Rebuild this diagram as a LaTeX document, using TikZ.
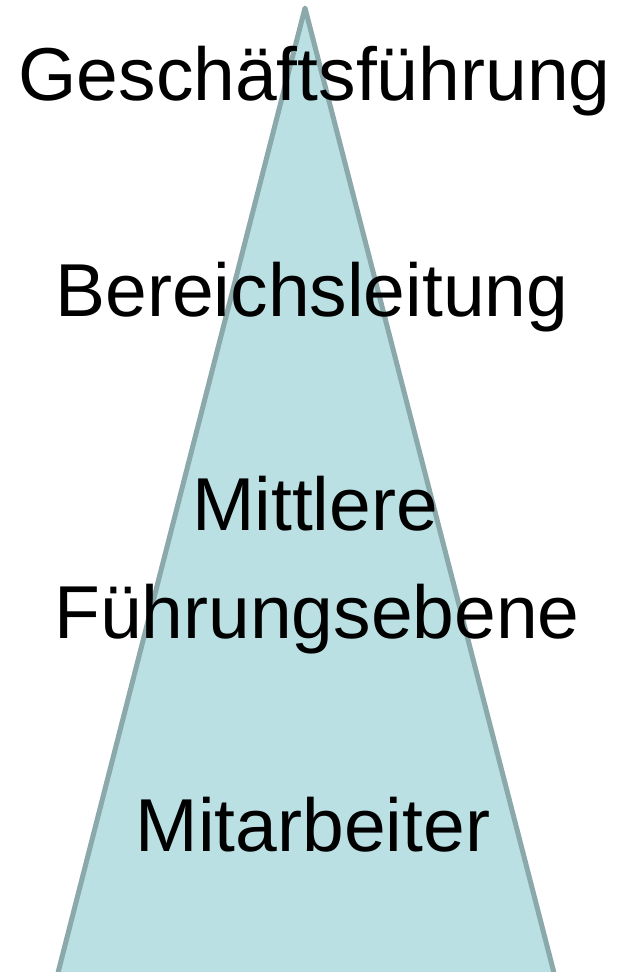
\documentclass[tikz,border=0pt]{standalone}
\usepackage{fontspec}
\setmainfont{Liberation Sans}
\definecolor{trifill}{HTML}{BBE0E3}
\definecolor{triline}{HTML}{8BA9AA}
\begin{document}
\begin{tikzpicture}[x=1pt,y=-1pt,
  lbl/.style={anchor=base,inner sep=0pt,font=\fontsize{75}{80}\selectfont}]
\useasboundingbox (0,0) rectangle (623,972);
\clip (0,0) rectangle (623,972);
\coordinate (apex) at (305,8);
\coordinate (bl) at (51,1000);
\coordinate (br) at (561,1000);
\draw[fill=trifill,draw=triline,line width=5pt,line join=round] (apex) -- (br) -- (bl) -- cycle;
\node[lbl] (gf) at (314.5,100) {Geschäftsführung};
\node[lbl] (bl2) at (312,316) {Bereichsleitung};
\node[lbl] (mi) at (315,530) {Mittlere};
\node[lbl] (fe) at (317,638) {Führungsebene};
\node[lbl] (ma) at (313,851) {Mitarbeiter};
\end{tikzpicture}
\end{document}
